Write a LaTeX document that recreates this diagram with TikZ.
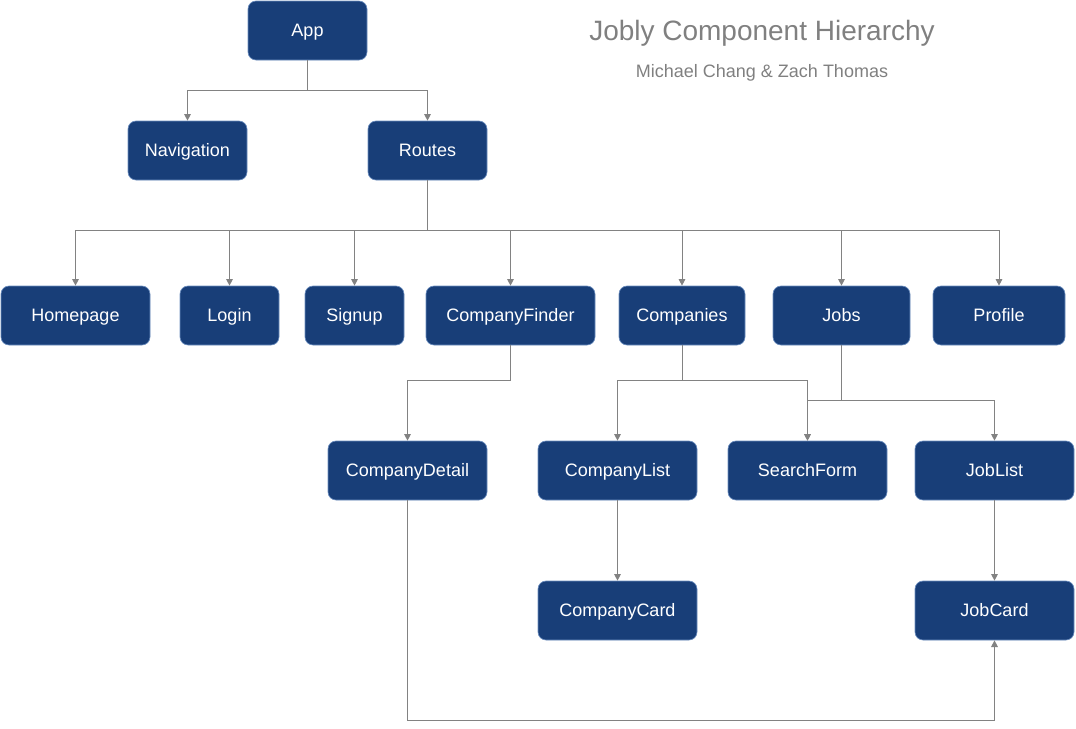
\documentclass[tikz,border=0pt]{standalone}
\usepackage{fontspec}
\setmainfont{Liberation Sans}
\usetikzlibrary{arrows.meta}

\definecolor{boxblue}{RGB}{24,62,120}
\definecolor{boxline}{RGB}{108,142,191}
\definecolor{linkgray}{RGB}{130,130,130}
\definecolor{titlegray}{RGB}{128,128,128}

\tikzset{every picture/.style={line width=0.75pt}}
\tikzset{
  comp/.style={fill=boxblue, draw=boxline, line width=0.5pt, rounded corners=6pt,
    text=white, minimum height=44.25pt, inner sep=0pt,
    text height=9.7pt, text depth=0pt,
    font=\fontsize{13.5}{16}\selectfont},
  link/.style={draw=linkgray, line width=0.75pt,
    -{Triangle[width=5pt,length=5pt]}}
}

\begin{document}
\begin{tikzpicture}[x=0.75pt,y=0.75pt,yscale=-1,xscale=1]
\useasboundingbox (0,0) rectangle (1076,729);

% Boxes: top levels
\draw (307.5,30.5) node (App) [comp, minimum width=89.25pt] {App};
\draw (187.5,150.5) node (Navigation) [comp, minimum width=89.25pt] {Navigation};
\draw (427.5,150.5) node (Routes) [comp, minimum width=89.25pt] {Routes};

% Boxes: routes
\draw (75.5,315.5) node (Homepage) [comp, minimum width=111.75pt] {Homepage};
\draw (229.5,315.5) node (Login) [comp, minimum width=74.25pt] {Login};
\draw (354.5,315.5) node (Signup) [comp, minimum width=74.25pt] {Signup};
\draw (510.5,315.5) node (CompanyFinder) [comp, minimum width=126.75pt] {CompanyFinder};
\draw (682,315.5) node (Companies) [comp, minimum width=94.5pt] {Companies};
\draw (841.5,315.5) node (Jobs) [comp, minimum width=102.75pt] {Jobs};
\draw (999,315.5) node (Profile) [comp, minimum width=99pt] {Profile};

% Boxes: lower levels
\draw (407.5,470.5) node (CompanyDetail) [comp, minimum width=119.25pt] {CompanyDetail};
\draw (617.5,470.5) node (CompanyList) [comp, minimum width=119.25pt] {CompanyList};
\draw (807.5,470.5) node (SearchForm) [comp, minimum width=119.25pt] {SearchForm};
\draw (994.5,470.5) node (JobList) [comp, minimum width=119.25pt] {JobList};
\draw (617.5,610.5) node (CompanyCard) [comp, minimum width=119.25pt] {CompanyCard};
\draw (994.5,610.5) node (JobCard) [comp, minimum width=119.25pt] {JobCard};

%Connectors
\draw [link] (App.south) -- ++(0,30) -| (Navigation.north);
\draw [link] (App.south) -- ++(0,30) -| (Routes.north);
\foreach \kid in {Homepage,Login,Signup,CompanyFinder,Companies,Jobs,Profile}
  \draw [link] (Routes.south) -- ++(0,50) -| (\kid.north);
\draw [link] (CompanyFinder.south) -- ++(0,35) -| (CompanyDetail.north);
\draw [link] (Companies.south) -- ++(0,35) -| (CompanyList.north);
\draw [link] (Companies.south) -- ++(0,35) -| (SearchForm.north);
\draw [link] (Jobs.south) -- ++(0,55) -| (SearchForm.north);
\draw [link] (Jobs.south) -- ++(0,55) -| (JobList.north);
\draw [link] (CompanyList) -- (CompanyCard);
\draw [link] (JobList) -- (JobCard);
\draw [link] (CompanyDetail.south) -- ++(0,220) -| (JobCard.south);

% Text Node
\draw (762,33) node (Title) [text=titlegray, font=\fontsize{21}{25}\selectfont] {Jobly Component Hierarchy};
% Text Node
\draw (762,73) node (Authors) [text=titlegray, font=\fontsize{13.5}{16}\selectfont] {Michael Chang \& Zach Thomas};

\end{tikzpicture}
\end{document}
